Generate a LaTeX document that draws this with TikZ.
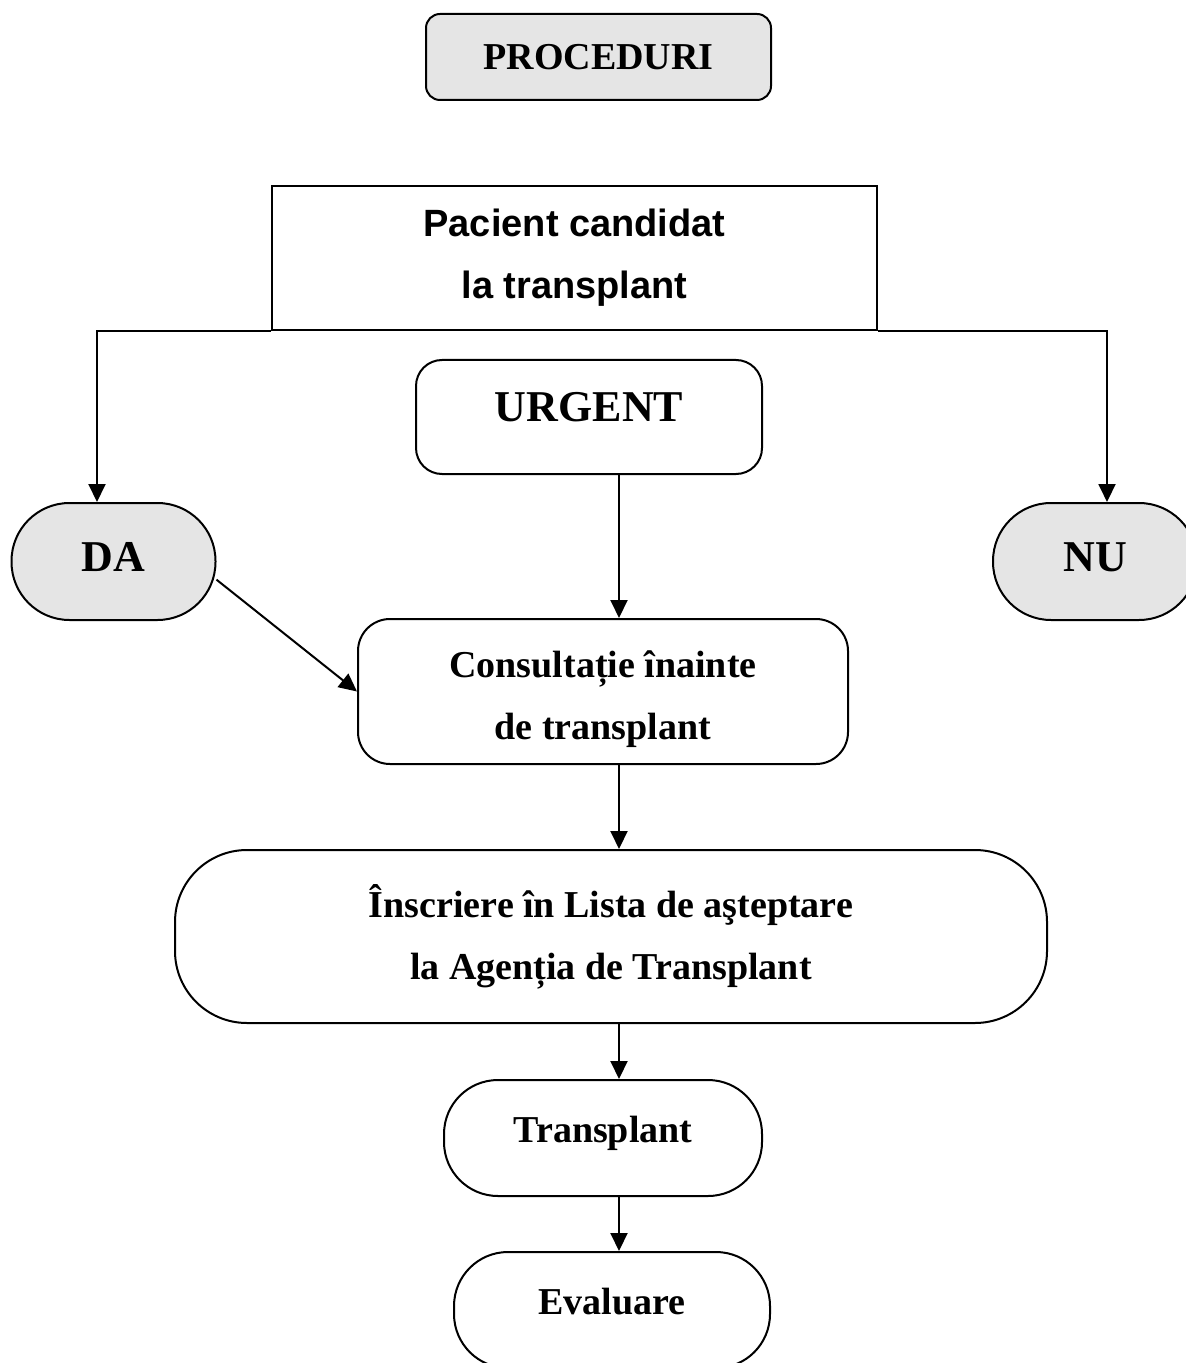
\documentclass[tikz,border=0pt]{standalone}
\usepackage{fontspec}
\setmainfont{Liberation Serif}
\newfontfamily\arialfont{Liberation Sans}
\usetikzlibrary{arrows.meta}
\tikzset{>={Triangle[width=8.5pt,length=9pt]}}
\tikzset{
  flow/.style={draw, line width=1pt, align=center, inner sep=0pt,
    font=\bfseries\fontsize{19}{31}\selectfont},
  bigflow/.style={flow, font=\bfseries\fontsize{22}{31}\selectfont},
  grayflow/.style={bigflow, fill=gray!20},
}

\begin{document}
\begin{tikzpicture}[x=0.5pt, y=-0.5pt, line width=1pt]
  \useasboundingbox (0,0) rectangle (1186,1363);

  %% title
  \node[flow, fill=gray!20, rounded corners=7pt, minimum width=172.5pt,
    minimum height=43pt] (proc) at (598.5,57) {PROCEDURI};

  %% patient
  \node[flow, font=\arialfont\bfseries\fontsize{19}{31}\selectfont,
    minimum width=302.5pt, minimum height=72pt] (pac) at (574.5,258)
  {Pacient candidat\\la transplant};

  %% decisions
  \node[grayflow, rounded corners=29pt, minimum width=102pt,
    minimum height=58.5pt, text depth=4.5pt] (da) at (113.5,561.5) {DA};
  \node[grayflow, rounded corners=29pt, minimum width=102pt,
    minimum height=58.5pt, text depth=4.5pt] (nu) at (1095,561.5) {NU};
  \node[bigflow, rounded corners=13pt, minimum width=173pt,
    minimum height=57pt, text depth=10pt] (urg) at (589,417) {URGENT};

  %% steps
  \node[flow, rounded corners=16pt, minimum width=245pt,
    minimum height=72.5pt] (con) at (603,691.5)
  {\rule{0pt}{21pt}Consultație înainte\\de transplant};
  \node[flow, rounded corners=36pt, minimum width=436pt,
    minimum height=86.5pt] (ins) at (611,936.5)
  {\rule{0pt}{16pt}Înscriere în Lista de aşteptare\\la Agenția de Transplant};
  \node[flow, rounded corners=27pt, minimum width=159pt,
    minimum height=58pt, text depth=9pt] (tra) at (603,1138) {Transplant};
  \node[flow, rounded corners=27pt, minimum width=158pt,
    minimum height=58pt, text depth=9pt] (eva) at (612,1310) {Evaluare};

  \coordinate (axis) at (619,0);

  %% arrows
  \draw[->] (pac.south west) -| ([xshift=-8.25pt]da.north);
  \draw[->] (pac.south east) -| ([xshift=6pt]nu.north);
  \draw[->] (urg.south -| axis) -- (con.north -| axis);
  \draw[->] (da.-10) -- (con.west);
  \draw[->] (con.south -| axis) -- (ins.north -| axis);
  \draw[->] (ins.south -| axis) -- (tra.north -| axis);
  \draw[->] (tra.south -| axis) -- (eva.north -| axis);

\end{tikzpicture}
\end{document}
